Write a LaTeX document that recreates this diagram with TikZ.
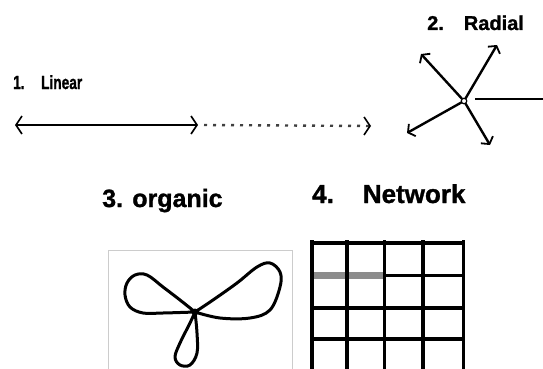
\documentclass[tikz,border=0pt]{standalone}
\usepackage{fontspec}
\setmainfont{Liberation Sans}[BoldFont={Liberation Sans Bold}, BoldFeatures={FakeBold=1.2}]
\usetikzlibrary{arrows.meta}
\tikzset{
  lbl/.style={inner sep=0pt, anchor=base west},
  ink/.style={line width=2.4pt, line cap=round, line join=round},
  chev/.style={-{Straight Barb[length=6pt,width=18pt,line width=1.6pt]}},
  rchev/.style={-{Straight Barb[length=5pt,width=14pt,line width=1.8pt]}},
  gridline/.style={line width=3.8pt, black},
}
\begin{document}
\begin{tikzpicture}[x=1pt,y=-1pt]
\useasboundingbox (0,0) rectangle (543,369);
\fill[white] (0,0) rectangle (543,369);

% 1. Linear
\node[lbl, font=\fontsize{19}{19}\selectfont\bfseries] (t1) at (13,89) {\scalebox{0.72}[1]{1.\hspace{23pt}Linear}};
\coordinate (l1) at (15,125);
\coordinate (l2) at (198,125);
\coordinate (l3) at (371,126);
\draw[ink, {Straight Barb[length=6pt,width=18pt,line width=1.6pt]}-{Straight Barb[length=6pt,width=18pt,line width=1.6pt]}] (l1) -- (l2);
\draw[line width=2.4pt, black!75, dash pattern=on 3pt off 6pt, -{Straight Barb[length=6pt,width=18pt,line width=1.6pt,black]}] ([xshift=6pt]l2) -- (l3);

% 2. Radial
\node[lbl, font=\fontsize{20}{20}\selectfont\bfseries] (t2) at (427,30) {2.\hspace{20pt}Radial};
\node[circle, draw, line width=1.2pt, minimum size=5.5pt, inner sep=0pt] (c) at (464,101) {};
\coordinate (r1) at (421,54);
\coordinate (r2) at (497,45);
\coordinate (r3) at (407,133);
\coordinate (r4) at (490,145);
\coordinate (r5a) at (475,99);
\coordinate (r5b) at (543,99);
\draw[ink, rchev] (c) -- (r1);
\draw[ink, rchev] (c) -- (r2);
\draw[ink, rchev] (c) -- (r3);
\draw[ink, rchev] (c) -- (r4);
\draw[line width=1.8pt] (r5a) -- (r5b);

% 3. organic
\node[lbl, font=\fontsize{25}{25}\selectfont\bfseries] (t3) at (102,207) {3. organic};
\draw[black!20, line width=1pt] (108,250) -- (108,380) (108,250) -- (292,250) -- (292,380);
\draw[line width=3pt, line join=round] plot[smooth, tension=0.6] coordinates {(195,312) (180,300) (163,287) (147,275) (135,275) (127,283) (125,295) (130,307) (143,313) (163,313) (195,312)};
\draw[line width=3pt, line join=round] plot[smooth, tension=0.6] coordinates {(195,312) (213,300) (237,283) (257,267) (270,263) (280,272) (280,287) (270,310) (250,318) (220,318) (195,312)};
\draw[line width=3pt, line join=round] plot[smooth, tension=0.6] coordinates {(195,312) (190,323) (180,343) (175,357) (180,365) (190,365) (197,353) (197,333) (195,312)};
\fill (195,312) circle (3.5pt);

% 4. Network
\node[lbl, font=\fontsize{26}{26}\selectfont\bfseries] (t4) at (312,203) {4.\hspace{29pt}Network};
\foreach \yy in {243,308,339} {
  \draw[gridline] (310,\yy) -- (465,\yy);
}
\fill[black!45] (310,272) rectangle (384,279);
\draw[line width=3pt] (384,275) -- (465,275);
\foreach \xx/\w in {312/4,347/4.4,384/3,423/3.6,463/3} {
  \draw[line width=\w pt] (\xx,240) -- (\xx,372);
}
\end{tikzpicture}
\end{document}
